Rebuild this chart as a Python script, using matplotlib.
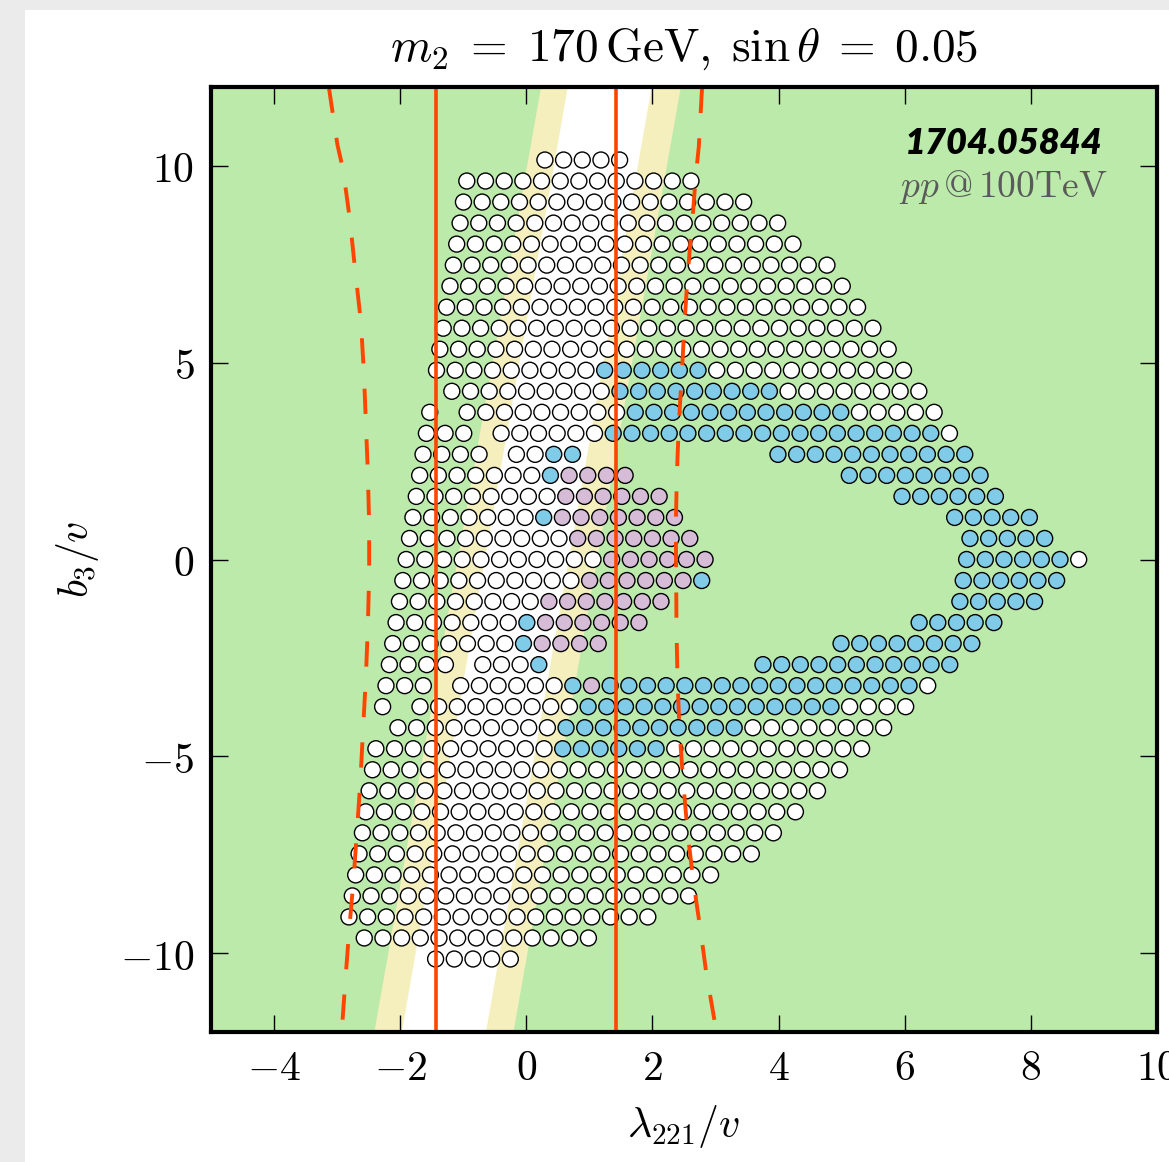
import matplotlib
matplotlib.use("Agg")
import matplotlib.pyplot as plt
from matplotlib.patches import Rectangle

plt.rcParams["mathtext.fontset"] = "cm"
plt.rcParams["font.family"] = ["DejaVu Sans"]

# ---------------------------------------------------------------- data
# Scan grid: rows of constant b3/v, points along each row step in lambda_221/v;
# the row origin drifts with b3 (sheared scan lattice).
b3_step = 0.534
lam_start = -1.905
lam_step = 0.2962
lam_shear = 0.1

# (row index, [(first point, last point, class), ...]); class w/b/p
row_index = [19, 18, 17, 16, 15, 14, 13, 12, 11, 10, 9, 8, 7, 6, 5, 4, 3, 2, 1, 0,
             -1, -2, -3, -4, -5, -6, -7, -8, -9, -10, -11, -12, -13, -14, -15,
             -16, -17, -18, -19]
row_runs = [
    [(4, 8, "w")],
    [(0, 12, "w")],
    [(0, 15, "w")],
    [(0, 17, "w")],
    [(0, 18, "w")],
    [(0, 20, "w")],
    [(0, 21, "w")],
    [(0, 22, "w")],
    [(0, 23, "w")],
    [(0, 24, "w")],
    [(0, 8, "w"), (9, 14, "b"), (15, 25, "w")],
    [(1, 9, "w"), (10, 18, "b"), (19, 26, "w")],
    [(0, 0, "w"), (2, 10, "w"), (11, 22, "b"), (23, 27, "w")],
    [(0, 2, "w"), (4, 9, "w"), (10, 27, "b"), (28, 28, "w")],
    [(0, 3, "w"), (5, 6, "w"), (7, 8, "b"), (19, 29, "b")],
    [(0, 6, "w"), (7, 7, "b"), (8, 11, "p"), (23, 30, "b")],
    [(0, 7, "w"), (8, 13, "p"), (26, 31, "b")],
    [(0, 6, "w"), (7, 7, "b"), (8, 14, "p"), (29, 33, "b")],
    [(0, 8, "w"), (9, 15, "p"), (30, 34, "b")],
    [(0, 10, "w"), (11, 16, "p"), (30, 35, "b"), (36, 36, "w")],
    [(0, 9, "w"), (10, 15, "p"), (16, 16, "b"), (30, 35, "b")],
    [(0, 7, "w"), (8, 14, "p"), (30, 34, "b")],
    [(0, 6, "w"), (7, 7, "b"), (8, 13, "p"), (28, 32, "b")],
    [(0, 6, "w"), (7, 7, "b"), (8, 11, "p"), (24, 31, "b")],
    [(0, 3, "w"), (5, 7, "w"), (8, 8, "b"), (20, 30, "b")],
    [(0, 2, "w"), (4, 9, "w"), (10, 10, "b"), (11, 11, "p"), (12, 28, "b"), (29, 29, "w")],
    [(0, 0, "w"), (2, 10, "w"), (11, 24, "b"), (25, 28, "w")],
    [(1, 9, "w"), (10, 19, "b"), (20, 27, "w")],
    [(0, 9, "w"), (10, 15, "b"), (16, 26, "w")],
    [(0, 25, "w")],
    [(0, 24, "w")],
    [(0, 23, "w")],
    [(0, 22, "w")],
    [(0, 21, "w")],
    [(0, 19, "w")],
    [(0, 18, "w")],
    [(0, 16, "w")],
    [(1, 13, "w")],
    [(5, 9, "w")],
]

# Slanted preferred band (inner and outer edges) at the bottom and top of the frame
band_b3 = [-12.0, 12.0]
inner_lo = [-1.984, 0.648]
inner_hi = [-0.649, 1.978]
outer_lo = [-2.419, 0.224]
outer_hi = [-0.213, 2.441]

# Vertical limits
vline_lam = [-1.425, 1.425]

# Dashed contours
left_dash_lam = [-3.13, -2.995, -2.905, -2.798, -2.714, -2.624, -2.576, -2.544,
                 -2.513, -2.492, -2.492, -2.513, -2.544, -2.587, -2.630, -2.683,
                 -2.741, -2.810, -2.862, -2.927]
left_dash_b3 = [11.98, 10.53, 9.90, 8.63, 7.34, 6.05, 4.76, 3.47, 2.20, 0.89,
                -0.38, -1.69, -2.99, -4.26, -5.58, -6.85, -8.15, -9.43, -10.53, -11.98]
right_dash_lam = [2.786, 2.735, 2.694, 2.630, 2.560, 2.508, 2.465, 2.417, 2.386,
                  2.370, 2.376, 2.381, 2.397, 2.429, 2.487, 2.556, 2.651, 2.767,
                  2.852, 3.013]
right_dash_b3 = [11.98, 10.49, 9.86, 8.57, 7.28, 5.99, 4.70, 3.41, 2.11, 0.82,
                 -0.46, -1.76, -3.05, -4.34, -5.63, -6.92, -8.21, -9.47, -10.49, -11.98]

xticks = [-4, -2, 0, 2, 4, 6, 8, 10]
yticks = [-10, -5, 0, 5, 10]

# ---------------------------------------------------------------- styles
GREEN = "#bbeaab"
YELLOW = "#f4efbd"
RED = "#ff4500"
FILL = {"w": "#ffffff", "b": "#80cbe8", "p": "#d6bcd6"}

fig = plt.figure(figsize=(11.69, 11.62), dpi=100)
fig.patch.set_facecolor("white")
fig.patches.append(Rectangle((0, 0), 25 / 1169, 1, transform=fig.transFigure,
                             facecolor="#ebebeb", edgecolor="none", zorder=-10))
fig.patches.append(Rectangle((0, 1 - 10 / 1162), 1, 10 / 1162, transform=fig.transFigure,
                             facecolor="#ebebeb", edgecolor="none", zorder=-10))

ax = fig.add_axes([211 / 1169, 1 - 1032 / 1162, 946 / 1169, 945 / 1162])
ax.set_facecolor(GREEN)
ax.set_xlim(-5, 10)
ax.set_ylim(-12, 12)

# band
ax.fill_betweenx(band_b3, outer_lo, outer_hi, color=YELLOW, lw=0, zorder=1)
ax.fill_betweenx(band_b3, inner_lo, inner_hi, color="white", lw=0, zorder=1.1)

# scan points
xs, ys, cs = [], [], []
for k, runs in zip(row_index, row_runs):
    b3 = k * b3_step
    for i0, i1, cls in runs:
        for i in range(i0, i1 + 1):
            xs.append(lam_start + i * lam_step + lam_shear * b3)
            ys.append(b3)
            cs.append(FILL[cls])
ax.scatter(xs, ys, s=132, c=cs, edgecolors="black", linewidths=1.0, zorder=3)

# limits
for xv in vline_lam:
    ax.axvline(xv, color=RED, lw=2.6, zorder=4)
ax.plot(left_dash_lam, left_dash_b3, color=RED, lw=2.8, dashes=(6.5, 6.5), zorder=4)
ax.plot(right_dash_lam, right_dash_b3, color=RED, lw=2.8, dashes=(6.5, 6.5), zorder=4)

# axes cosmetics
for sp in ax.spines.values():
    sp.set_linewidth(3.0)
    sp.set_zorder(6)
ax.set_xticks(xticks)
ax.set_xticklabels([r"$%d$" % v for v in xticks])
ax.set_yticks(yticks)
ax.set_yticklabels([r"$%d$" % v for v in yticks])
ax.tick_params(direction="in", length=12, width=1.0, top=True, right=True,
               labelsize=30)
ax.tick_params(axis="x", pad=11)
ax.tick_params(axis="y", pad=12)

ax.set_xlabel(r"$\lambda_{221}/v$", fontsize=30, labelpad=10)
ax.set_ylabel(r"$b_3/v$", fontsize=30, labelpad=14)
ax.set_title(r"$m_2\;=\;170\,\mathrm{GeV},\;\sin\theta\;=\;0.05$", fontsize=34, pad=19)

ax.text(0.943, 0.940, "1704.05844", transform=ax.transAxes, ha="right", va="center",
        fontsize=26, fontweight="heavy", fontstyle="italic", family=["Lato", "DejaVu Sans"],
        zorder=7)
ax.text(0.948, 0.894, r"$pp\,@\,100\mathrm{TeV}$", transform=ax.transAxes, ha="right",
        va="center", fontsize=27, color="#5a5a5a", zorder=7)

fig.savefig("out.png", dpi=100)
